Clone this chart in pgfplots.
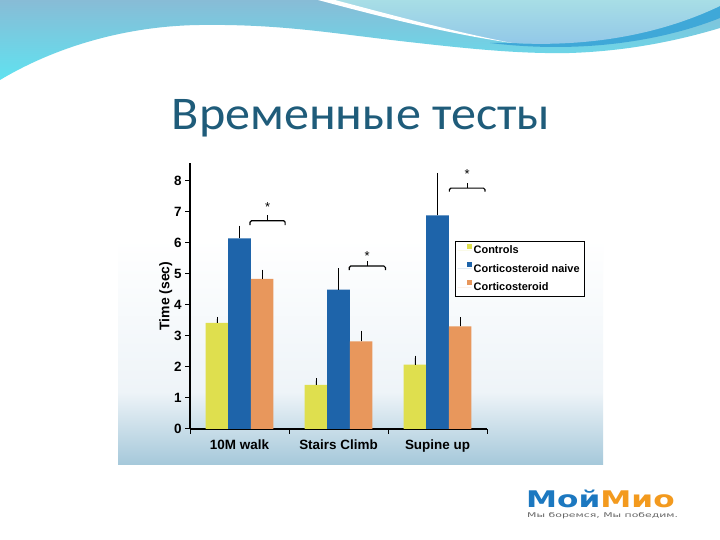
\documentclass[border=0pt]{standalone}
\usepackage{fontspec}
\setmainfont{Liberation Sans}
\newfontfamily\titlefont{Carlito}
\newfontfamily\logofont{DejaVu Sans}
\usepackage{pgfplots}
\pgfplotsset{compat=1.18}
\definecolor{cyel}{HTML}{DFDF4E}
\definecolor{cblue}{HTML}{1E64AA}
\definecolor{corange}{HTML}{E8975C}
\definecolor{topA}{HTML}{88BCD6}
\definecolor{topB}{HTML}{60E2F0}
\definecolor{lightA}{HTML}{A8DEE6}
\definecolor{lightB}{HTML}{90C6E8}
\definecolor{crescent}{HTML}{3FA8D8}
\definecolor{titlecol}{HTML}{1F5C7A}
\definecolor{panelmid}{HTML}{EEF4F8}
\definecolor{panelbot}{HTML}{A5C8DA}
\definecolor{logoblue}{HTML}{1C78C0}
\definecolor{logoorange}{HTML}{F39A1E}
\pgfdeclareverticalshading{panelshade}{100bp}{color(0bp)=(panelbot); color(25bp)=(panelbot); color(37bp)=(panelmid); color(62bp)=(white); color(100bp)=(white)}
\begin{document}
\begin{tikzpicture}[x=1bp,y=1bp]
\path[use as bounding box] (0,0) rectangle (720,540);
\fill[white] (0,0) rectangle (720,540);
\begin{scope}
\clip (0,0) rectangle (720,540);
% top wave
\shade[top color=topA, bottom color=topB] (0,460) .. controls (50,490) and (120,514) .. (200,515) .. controls (280,516) and (330,507) .. (400,499) .. controls (470,491) and (520,486) .. (570,487) .. controls (630,489) and (680,500) .. (720,512) -- (720,540) -- (0,540) -- cycle;
\fill[crescent] (490,497) .. controls (590,485) and (670,502) .. (720,522) -- (720,535) .. controls (670,512) and (600,493) .. (512,497) -- cycle;
\shade[top color=lightA, bottom color=lightB] (333,540) .. controls (400,522) and (460,506) .. (512,497) .. controls (600,492) and (670,510) .. (720,534) -- (720,540) -- cycle;
\fill[white] (318,540) .. controls (385,522) and (450,506) .. (512,497) .. controls (455,508) and (395,524) .. (335,540) -- cycle;
\end{scope}
% title
\node[anchor=base, font=\titlefont\fontsize{47}{52}\selectfont, text=titlecol, inner sep=0] at (361,410) {\scalebox{1.07}[1]{Временные тесты}};
% panel
\shade[shading=panelshade] (118,75) rectangle (603,380);
% logo
\node[anchor=base west, inner sep=0, font=\logofont\bfseries\fontsize{23}{26}\selectfont] at (526,32) {\scalebox{1.36}[1]{\textcolor{logoblue}{Мой}\textcolor{logoorange}{Мио}}};
\node[anchor=base west, inner sep=0, font=\logofont\fontsize{6.5}{7}\selectfont, text=gray!80!black] at (527,22.5) {\scalebox{1.68}[1]{Мы боремся, Мы победим.}};
\coordinate (axo) at (190,111);
\begin{axis}[
  at={(axo)}, anchor=south west,
  scale only axis, width=297bp, height=266bp,
  xmin=-0.5, xmax=2.5, ymin=0, ymax=8.57,
  axis x line*=bottom, axis y line*=left,
  axis line style={line width=1.4bp, black},
  ybar=0pt, bar width=0.228,
  xtick={-0.5,0.5,1.5,2.5}, xticklabels={,,,},
  extra x ticks={0,1,2}, extra x tick labels={10M walk,Stairs Climb,Supine up},
  extra x tick style={major tick length=0pt, xticklabel style={yshift=-7bp}},
  ytick={0,1,...,8},
  tick align=outside, major tick length=5bp,
  tick style={black, line width=1bp},
  tick label style={font=\bfseries\fontsize{13.5}{15}\selectfont},
  /pgf/number format/assume math mode=true,
  ylabel={Time (sec)}, ylabel shift=-5bp,
  ylabel style={font=\bfseries\fontsize{14}{16}\selectfont},
  legend cell align=left,
  legend style={at={(0.892,0.707)}, anchor=north west, draw=black, line width=0.5bp, fill=white,
    font=\bfseries\fontsize{11}{13}\selectfont, row sep=4.5bp, inner sep=2.5bp},
  legend image code/.code={\path (0bp,0bp) -- (14bp,0bp); \fill[#1] (9bp,2bp) rectangle (14bp,7bp);},
  error bars/y dir=plus, error bars/y explicit,
  error bars/error bar style={black, line width=0.5bp},
  error bars/error mark options={black, line width=0.5bp, mark size=2.2bp},
]
\addplot[fill=cyel, draw=none] coordinates {(0,3.42) +- (0,0.12) (1,1.42) +- (0,0.14) (2,2.07) +- (0,0.22)};
\addplot[fill=cblue, draw=none] coordinates {(0,6.14) +- (0,0.34) (1,4.49) +- (0,0.61) (2,6.88) +- (0,1.30)};
\addplot[fill=corange, draw=none] coordinates {(0,4.84) +- (0,0.22) (1,2.82) +- (0,0.28) (2,3.31) +- (0,0.22)};
\legend{Controls, Corticosteroid naive\hspace{7bp}, Corticosteroid}
% significance brackets
\draw[line width=1.2bp, rounded corners=1.5bp] (axis cs:0.106,6.57) |- (axis cs:0.461,6.71) -- (axis cs:0.461,6.57);
\draw[line width=1.2bp] (axis cs:0.284,6.71) -- (axis cs:0.284,6.89);
\node[font=\fontsize{13}{14}\selectfont, yshift=-2.5bp] at (axis cs:0.284,7.22) {*};
\draw[line width=1.2bp, rounded corners=1.5bp] (axis cs:1.109,5.12) |- (axis cs:1.474,5.25) -- (axis cs:1.474,5.12);
\draw[line width=1.2bp] (axis cs:1.29,5.25) -- (axis cs:1.29,5.41);
\node[font=\fontsize{13}{14}\selectfont, yshift=-2.5bp] at (axis cs:1.29,5.64) {*};
\draw[line width=1.2bp, rounded corners=1.5bp] (axis cs:2.12,7.65) |- (axis cs:2.48,7.76) -- (axis cs:2.48,7.65);
\draw[line width=1.2bp] (axis cs:2.30,7.76) -- (axis cs:2.30,7.94);
\node[font=\fontsize{13}{14}\selectfont, yshift=-2.5bp] at (axis cs:2.30,8.31) {*};
\end{axis}
\end{tikzpicture}
\end{document}
